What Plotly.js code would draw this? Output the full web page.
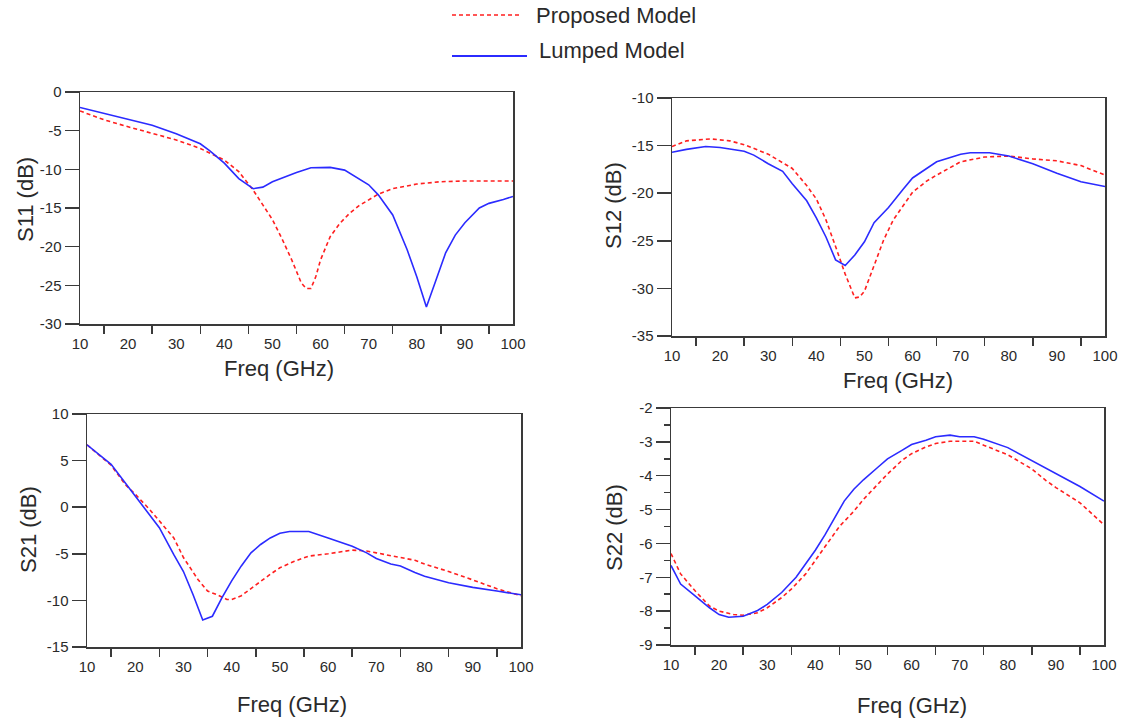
<!DOCTYPE html>
<html>
<head>
<meta charset="utf-8">
<script src="https://cdn.plot.ly/plotly-3.0.1.min.js"></script>
<style>
  html, body { margin: 0; padding: 0; background: #fff; }
  #chart { width: 1125px; height: 719px; }
</style>
</head>
<body>
<div id="chart"></div>
<script>
// ---- S-parameter data (frequency in GHz, magnitude in dB) ----

// S11
const s11LumpedFreq = [10, 15, 20, 25, 30, 35, 37, 40, 43, 46, 48, 50, 55, 58, 62, 65, 70, 72, 75, 78, 80, 82, 84, 86, 88, 90, 93, 95, 98, 100];
const s11LumpedDb   = [-2.0, -2.8, -3.5, -4.3, -5.4, -6.7, -7.6, -9.2, -11.2, -12.5, -12.3, -11.6, -10.4, -9.8, -9.75, -10.1, -12.0, -13.3, -15.9, -20.4, -23.9, -27.8, -24.3, -20.8, -18.5, -16.9, -15.0, -14.4, -13.9, -13.5];
const s11ProposedFreq = [10, 15, 20, 25, 30, 35, 38, 40, 43, 46, 48, 50, 52, 54, 56, 57, 58, 59, 60, 62, 64, 66, 68, 70, 72, 75, 78, 80, 85, 90, 100];
const s11ProposedDb   = [-2.45, -3.6, -4.5, -5.3, -6.2, -7.3, -8.2, -8.8, -10.3, -12.7, -14.6, -16.5, -19.0, -21.7, -24.7, -25.4, -25.4, -23.9, -21.7, -18.7, -17.0, -15.7, -14.7, -14.0, -13.2, -12.5, -12.1, -11.9, -11.6, -11.5, -11.5];

// S12
const s12LumpedFreq = [10, 13, 17, 20, 25, 27, 30, 33, 35, 38, 40, 42, 44, 46, 48, 50, 52, 55, 58, 60, 65, 70, 72, 76, 80, 85, 90, 95, 100];
const s12LumpedDb   = [-15.7, -15.4, -15.1, -15.2, -15.6, -16.0, -16.9, -17.7, -19.0, -20.8, -22.6, -24.6, -27.0, -27.6, -26.5, -25.1, -23.1, -21.5, -19.6, -18.4, -16.7, -15.9, -15.75, -15.75, -16.1, -16.9, -17.9, -18.8, -19.3];
const s12ProposedFreq = [10, 13, 18, 22, 25, 30, 35, 38, 40, 42, 44, 46, 48, 49, 50, 52, 54, 56, 58, 60, 63, 65, 70, 75, 80, 85, 90, 95, 100];
const s12ProposedDb   = [-15.1, -14.5, -14.3, -14.5, -14.9, -15.9, -17.4, -19.2, -20.6, -22.8, -25.6, -28.5, -31.0, -30.9, -30.3, -27.6, -24.9, -22.8, -21.4, -19.9, -18.7, -18.1, -16.7, -16.2, -16.1, -16.4, -16.6, -17.1, -18.1];

// S21
const s21LumpedFreq = [10, 15, 20, 23, 25, 28, 30, 32, 34, 36, 38, 40, 42, 44, 46, 48, 50, 52, 56, 60, 65, 68, 70, 73, 75, 78, 80, 85, 90, 95, 100];
const s21LumpedDb   = [6.7, 4.6, 1.2, -0.8, -2.2, -5.1, -6.9, -9.4, -12.1, -11.7, -9.7, -7.9, -6.3, -4.9, -4.0, -3.3, -2.8, -2.6, -2.6, -3.3, -4.2, -4.9, -5.5, -6.1, -6.3, -7.0, -7.4, -8.1, -8.6, -9.0, -9.4];
const s21ProposedFreq = [10, 15, 18, 20, 23, 25, 28, 30, 33, 35, 37, 39, 40, 42, 45, 48, 50, 53, 56, 60, 65, 68, 70, 75, 78, 80, 85, 90, 95, 100];
const s21ProposedDb   = [6.7, 4.5, 2.4, 1.4, -0.25, -1.5, -3.3, -5.4, -7.75, -9.0, -9.4, -9.9, -9.9, -9.5, -8.3, -7.2, -6.5, -5.8, -5.25, -5.0, -4.6, -4.7, -4.9, -5.4, -5.7, -6.1, -6.9, -7.8, -8.75, -9.5];

// S22
const s22LumpedFreq = [10, 12, 15, 18, 20, 22, 25, 28, 30, 33, 36, 38, 40, 42, 44, 46, 48, 50, 53, 55, 58, 60, 63, 65, 68, 70, 73, 75, 80, 85, 90, 95, 100];
const s22LumpedDb   = [-6.65, -7.2, -7.55, -7.9, -8.1, -8.18, -8.15, -7.98, -7.8, -7.45, -7.0, -6.6, -6.2, -5.75, -5.25, -4.75, -4.4, -4.12, -3.75, -3.5, -3.25, -3.08, -2.95, -2.85, -2.8, -2.85, -2.85, -2.92, -3.17, -3.55, -3.92, -4.32, -4.75];
const s22ProposedFreq = [10, 12, 15, 18, 20, 23, 25, 28, 30, 33, 35, 38, 40, 43, 45, 48, 50, 53, 55, 58, 60, 63, 65, 68, 70, 73, 75, 80, 85, 88, 90, 95, 100];
const s22ProposedDb   = [-6.3, -6.9, -7.4, -7.85, -8.0, -8.1, -8.12, -8.05, -7.9, -7.6, -7.35, -6.9, -6.5, -5.9, -5.5, -5.05, -4.7, -4.25, -3.95, -3.55, -3.35, -3.15, -3.05, -2.98, -2.98, -2.98, -3.1, -3.38, -3.8, -4.15, -4.35, -4.8, -5.45];

// Axis labels, tick values and series names
const freqTitle = 'Freq (GHz)';
const yTitles = ['S11 (dB)', 'S12 (dB)', 'S21 (dB)', 'S22 (dB)'];
const seriesNames = ['Proposed Model', 'Lumped Model'];
const xTickVals = [10, 20, 30, 40, 50, 60, 70, 80, 90, 100];
const xMinorVals = [15, 25, 35, 45, 55, 65, 75, 85, 95];
const s11TickVals = [-30, -25, -20, -15, -10, -5, 0];
const s12TickVals = [-35, -30, -25, -20, -15, -10];
const s21TickVals = [-15, -10, -5, 0, 5, 10];
const s22TickVals = [-9, -8, -7, -6, -5, -4, -3, -2];

// ---- styling ----
const W = 1125, H = 719;
const RED = '#ff1f1f', BLUE = '#2b2bff', AXIS = '#3a3a3a', TEXT = '#2a2a2a';
const FONT = 'Liberation Sans, Arial, sans-serif';

// plot boxes in pixels: [left, right, top, bottom]
const boxes = [
  [80, 513, 92, 324],
  [672, 1105, 98, 336],
  [87, 521, 414, 647],
  [671, 1104, 408, 645]
];
const yTickSets = [s11TickVals, s12TickVals, s21TickVals, s22TickVals];

const px = x => x / W;
const py = y => 1 - y / H;

function xAxis(i) {
  const b = boxes[i];
  return {
    domain: [px(b[0]), px(b[1])],
    anchor: i === 0 ? 'y' : 'y' + (i + 1),
    range: [10, 100],
    tickmode: 'array', tickvals: xTickVals, ticktext: xTickVals.map(String),
    ticks: 'outside', ticklen: 5, tickcolor: 'rgba(0,0,0,0)',
    minor: { tickmode: 'array', tickvals: xMinorVals, ticks: 'outside', ticklen: 8, tickwidth: 1.5, tickcolor: AXIS },
    showline: true, mirror: true, linecolor: AXIS, linewidth: 1.5,
    showgrid: false, zeroline: false, automargin: false,
    tickfont: { family: FONT, size: 15, color: TEXT }
  };
}

function yAxis(i) {
  const b = boxes[i];
  const vals = yTickSets[i];
  const ax = {
    domain: [py(b[3]), py(b[2])],
    anchor: i === 0 ? 'x' : 'x' + (i + 1),
    range: [vals[0], vals[vals.length - 1]],
    tickmode: 'array', tickvals: vals, ticktext: vals.map(String),
    ticks: 'outside', ticklen: 14, tickwidth: 1.5, tickcolor: AXIS,
    showline: true, mirror: true, linecolor: AXIS, linewidth: 1.5,
    showgrid: false, zeroline: false, automargin: false,
    tickfont: { family: FONT, size: 15, color: TEXT }
  };
  if (i === 3) {
    ax.minor = { tickmode: 'linear', tick0: -2.5, dtick: 1, ticks: 'outside', ticklen: 6, tickwidth: 1.5, tickcolor: AXIS };
  }
  return ax;
}

const panels = [
  [s11ProposedFreq, s11ProposedDb, s11LumpedFreq, s11LumpedDb],
  [s12ProposedFreq, s12ProposedDb, s12LumpedFreq, s12LumpedDb],
  [s21ProposedFreq, s21ProposedDb, s21LumpedFreq, s21LumpedDb],
  [s22ProposedFreq, s22ProposedDb, s22LumpedFreq, s22LumpedDb]
];

const traces = [];
panels.forEach((p, i) => {
  const xa = i === 0 ? 'x' : 'x' + (i + 1);
  const ya = i === 0 ? 'y' : 'y' + (i + 1);
  traces.push({
    x: p[0], y: p[1], xaxis: xa, yaxis: ya, type: 'scatter', mode: 'lines',
    name: seriesNames[0], showlegend: false,
    line: { color: RED, width: 1.6, dash: '4px,3px' }
  });
  traces.push({
    x: p[2], y: p[3], xaxis: xa, yaxis: ya, type: 'scatter', mode: 'lines',
    name: seriesNames[1], showlegend: false,
    line: { color: BLUE, width: 1.6 }
  });
});

// axis titles placed as annotations (pixel centres)
const xTitlePos = [[279, 368], [898, 380], [292, 704], [912, 705]];
const yTitlePos = [[25, 200], [614, 206], [28, 530], [614, 528]];
const annotations = [];
xTitlePos.forEach(([x, y]) => annotations.push({
  xref: 'paper', yref: 'paper', x: px(x), y: py(y), text: freqTitle,
  showarrow: false, xanchor: 'center', yanchor: 'middle',
  font: { family: FONT, size: 22, color: TEXT }
}));
yTitlePos.forEach(([x, y], i) => annotations.push({
  xref: 'paper', yref: 'paper', x: px(x), y: py(y), text: yTitles[i],
  showarrow: false, xanchor: 'center', yanchor: 'middle', textangle: -90,
  font: { family: FONT, size: 22, color: TEXT }
}));

// key: line samples with series names
annotations.push({
  xref: 'paper', yref: 'paper', x: px(534), y: py(16), text: seriesNames[0],
  showarrow: false, xanchor: 'left', yanchor: 'middle',
  font: { family: FONT, size: 22, color: TEXT }
});
annotations.push({
  xref: 'paper', yref: 'paper', x: px(537), y: py(51), text: seriesNames[1],
  showarrow: false, xanchor: 'left', yanchor: 'middle',
  font: { family: FONT, size: 22, color: TEXT }
});
const shapes = [
  { type: 'line', xref: 'paper', yref: 'paper', x0: px(452), x1: px(522), y0: py(15), y1: py(15),
    line: { color: RED, width: 1.6, dash: '4px,3px' } },
  { type: 'line', xref: 'paper', yref: 'paper', x0: px(452), x1: px(527), y0: py(56), y1: py(56),
    line: { color: BLUE, width: 2 } }
];

const layout = {
  width: W, height: H,
  margin: { l: 0, r: 0, t: 0, b: 0 },
  paper_bgcolor: '#ffffff', plot_bgcolor: '#ffffff',
  showlegend: false,
  annotations, shapes,
  font: { family: FONT, color: TEXT }
};
for (let i = 0; i < 4; i++) {
  const s = i === 0 ? '' : String(i + 1);
  layout['xaxis' + s] = xAxis(i);
  layout['yaxis' + s] = yAxis(i);
}

Plotly.newPlot('chart', traces, layout, { staticPlot: true, displayModeBar: false });
</script>
</body>
</html>
